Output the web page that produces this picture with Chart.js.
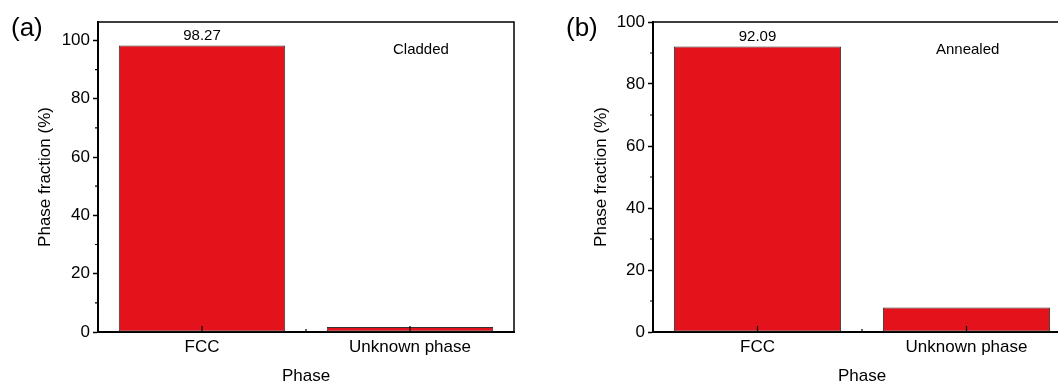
<!DOCTYPE html>
<html>
<head>
<meta charset="utf-8">
<script src="https://cdn.jsdelivr.net/npm/chart.js@4/dist/chart.umd.min.js"></script>
<style>
  html, body { margin:0; padding:0; background:#fff; width:1058px; height:383px; overflow:hidden; }
  .wrap { position:absolute; top:0; height:400px; }
  .lbl { position:absolute; font-family:'Liberation Sans', Arial, sans-serif; color:#000; white-space:nowrap; }
  .panel { font-size:26px; line-height:30px; }
  .note { font-size:15px; line-height:18px; }
</style>
</head>
<body>
<div class="wrap" style="left:0; width:540px;"><canvas id="ca"></canvas></div>
<div class="wrap" style="left:545px; width:540px;"><canvas id="cb"></canvas></div>
<div class="lbl panel" style="left:11px; top:12px;">(a)</div>
<div class="lbl panel" style="left:566px; top:12px;">(b)</div>
<div class="lbl note" style="left:393px; top:40px;">Cladded</div>
<div class="lbl note" style="left:936px; top:40px;">Annealed</div>
<script>
const categories = ['FCC', 'Unknown phase'];
const claddedValues = [98.27, 1.73];
const annealedValues = [92.09, 7.91];
const claddedLabels = ['98.27', ''];
const annealedLabels = ['92.09', ''];
const yMajorTicks = [0, 20, 40, 60, 80, 100];
const yMinorTicks = [10, 30, 50, 70, 90];
const yTitle = 'Phase fraction (%)';
const xTitle = 'Phase';

Chart.defaults.font.family = "'Liberation Sans', Arial, sans-serif";
Chart.defaults.color = '#000';

const decor = {
  id: 'decor',
  afterDatasetsDraw(chart, args, opts) {
    const ctx = chart.ctx;
    const a = chart.chartArea;
    const xs = chart.scales.x, ys = chart.scales.y;
    ctx.save();
    ctx.strokeStyle = '#000';
    ctx.lineWidth = 1.5;
    ctx.beginPath();
    ctx.moveTo(a.left, a.top); ctx.lineTo(a.right, a.top); ctx.lineTo(a.right, a.bottom);
    ctx.stroke();
    ctx.lineWidth = 1.2;
    ctx.beginPath();
    yMinorTicks.forEach(v => {
      const y = ys.getPixelForValue(v);
      ctx.moveTo(a.left - 3, y); ctx.lineTo(a.left, y);
    });
    categories.forEach((c, i) => {
      const x = xs.getPixelForValue(i);
      ctx.moveTo(x, a.bottom); ctx.lineTo(x, a.bottom - 6);
    });
    for (let i = 0; i < categories.length - 1; i++) {
      const x = (xs.getPixelForValue(i) + xs.getPixelForValue(i + 1)) / 2;
      ctx.moveTo(x, a.bottom); ctx.lineTo(x, a.bottom - 3);
    }
    ctx.stroke();
    const labels = opts.labels || [];
    const meta = chart.getDatasetMeta(0);
    ctx.fillStyle = '#000';
    ctx.font = "15px 'Liberation Sans', Arial, sans-serif";
    ctx.textAlign = 'center';
    ctx.textBaseline = 'middle';
    meta.data.forEach((bar, i) => {
      if (labels[i]) ctx.fillText(labels[i], bar.x, bar.y - 10);
    });
    ctx.restore();
  }
};

function makeChart(id, values, labels, yMax, yAxisWidth, rightPad, yTitlePad) {
  return new Chart(document.getElementById(id), {
    type: 'bar',
    data: {
      labels: categories,
      datasets: [{
        data: values,
        backgroundColor: '#e3121b',
        borderColor: '#333333',
        borderWidth: 1,
        borderSkipped: false,
        categoryPercentage: 1.0,
        barPercentage: 0.8
      }]
    },
    options: {
      responsive: true,
      maintainAspectRatio: false,
      animation: false,
      layout: { padding: { left: 0, top: 22, right: rightPad, bottom: 8 } },
      plugins: { legend: { display: false }, tooltip: { enabled: false }, decor: { labels: labels } },
      scales: {
        x: {
          offset: true,
          grid: { display: false, drawTicks: false },
          border: { display: true, color: '#000', width: 2 },
          ticks: { font: { size: 17 }, padding: 5, color: '#000' },
          title: { display: true, text: xTitle, font: { size: 17 }, padding: { top: 0, bottom: 5 }, color: '#000' },
          afterFit(s) { s.height = 60; }
        },
        y: {
          min: 0,
          max: yMax,
          afterBuildTicks(s) { s.ticks = yMajorTicks.map(v => ({ value: v })); },
          grid: { drawOnChartArea: false, drawTicks: true, tickLength: 5, color: '#000', tickWidth: 1.5 },
          border: { display: true, color: '#000', width: 2 },
          ticks: { font: { size: 17 }, padding: 3, color: '#000' },
          title: { display: true, text: yTitle, font: { size: 17 }, padding: { top: yTitlePad, bottom: 0 }, color: '#000' },
          afterFit(s) { s.width = yAxisWidth; }
        }
      }
    },
    plugins: [decor]
  });
}

makeChart('ca', claddedValues, claddedLabels, 106.3, 98, 26, 35);
makeChart('cb', annealedValues, annealedLabels, 100, 108, 14, 46);
</script>
</body>
</html>
